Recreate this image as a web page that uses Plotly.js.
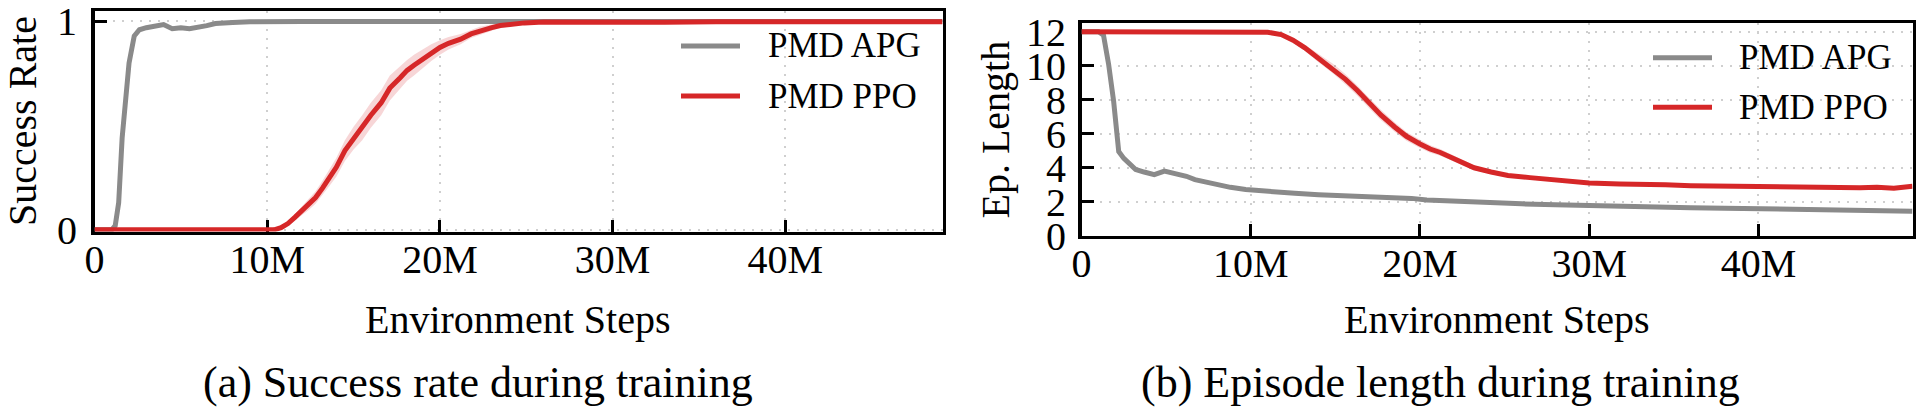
<!DOCTYPE html>
<html>
<head>
<meta charset="utf-8">
<script src="https://cdn.plot.ly/plotly-3.0.1.min.js"></script>
<style>
  html, body { margin: 0; padding: 0; background: #ffffff; }
  #chart { width: 1920px; height: 410px; }
</style>
</head>
<body>
<div id="chart"></div>
<script>
// Environment steps are given in millions.
const apgSuccX = [0, 0.5, 1.0, 1.2, 1.4, 1.6, 1.8, 2.0, 2.3, 2.6, 3.0, 3.5, 4.0, 4.5, 5.0, 5.5, 6.0, 6.5, 7.0, 7.5, 8.0, 9.0, 10, 12, 15, 20, 25, 30, 35, 40, 45, 49.1];
const apgSucc  = [0, 0, 0, 0.02, 0.13, 0.44, 0.64, 0.80, 0.93, 0.96, 0.97, 0.975, 0.985, 0.965, 0.97, 0.965, 0.97, 0.98, 0.99, 0.99, 0.995, 0.998, 1, 1, 1, 1, 1, 1, 1, 1, 1, 1];

const ppoSuccX = [0, 5, 10, 10.4, 10.8, 11.2, 11.6, 12.0, 12.4, 12.8, 13.2, 13.6, 14.0, 14.5, 15.0, 15.5, 16.0, 16.6, 17.1, 17.7, 18.1, 18.5, 19.0, 19.5, 20.0, 20.5, 21.2, 21.8, 22.3, 23.0, 23.5, 24.0, 24.9, 26, 28, 30, 33, 36, 40, 44, 47, 49.1];
const ppoSucc  = [0, 0, 0, 0, 0.01, 0.03, 0.06, 0.09, 0.12, 0.155, 0.2, 0.25, 0.3, 0.38, 0.44, 0.49, 0.55, 0.61, 0.68, 0.73, 0.765, 0.79, 0.82, 0.85, 0.875, 0.895, 0.915, 0.94, 0.955, 0.97, 0.98, 0.985, 0.993, 0.997, 0.995, 0.998, 0.996, 0.998, 0.997, 0.999, 0.997, 0.998];
const ppoSuccSpread = [0, 0, 0, 0, 0.005, 0.01, 0.015, 0.02, 0.025, 0.03, 0.035, 0.04, 0.045, 0.05, 0.055, 0.06, 0.06, 0.06, 0.06, 0.055, 0.05, 0.05, 0.045, 0.04, 0.035, 0.03, 0.025, 0.02, 0.02, 0.015, 0.01, 0.01, 0.005, 0.003, 0.002, 0.002, 0.002, 0.002, 0.002, 0.002, 0.002, 0.002];

const apgLenX = [0, 0.5, 1.0, 1.3, 1.6, 1.9, 2.2, 2.5, 2.8, 3.2, 3.7, 4.3, 4.9, 5.3, 5.7, 6.2, 6.7, 7.1, 8.0, 8.8, 9.7, 10.6, 11.4, 12.6, 14, 15.5, 16.5, 18, 19.5, 20.4, 22, 24, 26, 28, 30, 32, 34, 36, 38, 40, 42, 44, 46, 48, 49.1];
const apgLen  = [12, 12, 12, 11.8, 10.1, 7.9, 4.95, 4.55, 4.3, 3.9, 3.75, 3.6, 3.8, 3.72, 3.67, 3.5, 3.3, 3.2, 3.0, 2.85, 2.72, 2.63, 2.55, 2.5, 2.42, 2.38, 2.35, 2.25, 2.2, 2.1, 2.02, 1.95, 1.88, 1.82, 1.76, 1.72, 1.7, 1.65, 1.62, 1.58, 1.55, 1.52, 1.5, 1.47, 1.45];

const ppoLenX = [0, 5, 10, 10.5, 11, 11.8, 12.5, 13.2, 14, 14.9, 15.6, 16.3, 17, 17.7, 18.5, 19.2, 20, 20.6, 21.2, 22.2, 23.2, 24.2, 25.2, 26.5, 27.9, 29, 30, 31.8, 33, 34.5, 36, 37.7, 39, 40, 41.5, 43, 44, 45, 46, 47, 48, 49.1];
const ppoLen  = [12, 12, 12, 12, 11.97, 11.83, 11.5, 11.05, 10.45, 9.8, 9.2, 8.54, 7.8, 7.09, 6.4, 5.85, 5.4, 5.1, 4.9, 4.45, 4.0, 3.75, 3.55, 3.42, 3.3, 3.18, 3.1, 3.05, 3.0, 3.0, 2.95, 2.92, 2.93, 2.9, 2.9, 2.88, 2.85, 2.8, 2.82, 2.85, 2.8, 2.92];
const ppoLenSpread = [0, 0, 0, 0, 0.03, 0.07, 0.12, 0.18, 0.24, 0.28, 0.3, 0.3, 0.3, 0.3, 0.28, 0.26, 0.24, 0.22, 0.2, 0.17, 0.14, 0.11, 0.09, 0.07, 0.05, 0.04, 0.04, 0.03, 0.03, 0.03, 0.03, 0.03, 0.03, 0.03, 0.03, 0.03, 0.03, 0.03, 0.03, 0.03, 0.03, 0.03];

const xTickVals = [0, 10, 20, 30, 40];
const xTickText = ['0', '10M', '20M', '30M', '40M'];
const succTickVals = [0, 1];
const lenTickVals = [0, 2, 4, 6, 8, 10, 12];

const seriesNames = ['PMD APG', 'PMD PPO'];
const captions = ['(a) Success rate during training', '(b) Episode length during training'];
const xTitle = 'Environment Steps';
const yTitles = ['Success Rate', 'Ep. Length'];

const GRAY = '#8a8a8a';
const RED = '#d62728';
const BAND = 'rgba(214,39,40,0.19)';
const FONT = '"Liberation Serif", "Times New Roman", serif';

const W = 1920, H = 410;
const px = v => v / W;
const py = v => 1 - v / H;

function add(a, b, s) { return a.map((v, i) => v + s * b[i]); }

function band(x, y, s, xa, ya) {
  return [
    { x: x, y: add(y, s, 1), xaxis: xa, yaxis: ya, mode: 'lines', line: { width: 0, color: BAND }, hoverinfo: 'skip', showlegend: false },
    { x: x, y: add(y, s, -1), xaxis: xa, yaxis: ya, mode: 'lines', line: { width: 0, color: BAND }, fill: 'tonexty', fillcolor: BAND, hoverinfo: 'skip', showlegend: false }
  ];
}

function line(x, y, color, xa, ya, name) {
  return { x: x, y: y, xaxis: xa, yaxis: ya, mode: 'lines', name: name, line: { color: color, width: 5 }, showlegend: false };
}

const traces = [
  ...band(ppoSuccX, ppoSucc, ppoSuccSpread, 'x', 'y'),
  line(apgSuccX, apgSucc, GRAY, 'x', 'y', seriesNames[0]),
  line(ppoSuccX, ppoSucc, RED, 'x', 'y', seriesNames[1]),
  ...band(ppoLenX, ppoLen, ppoLenSpread, 'x2', 'y2'),
  line(apgLenX, apgLen, GRAY, 'x2', 'y2', seriesNames[0]),
  line(ppoLenX, ppoLen, RED, 'x2', 'y2', seriesNames[1])
];

const axisCommon = {
  showline: true, linecolor: '#000', linewidth: 3.5, mirror: true,
  ticks: 'inside', ticklen: 12, tickwidth: 3, tickcolor: '#000',
  showgrid: true, gridcolor: '#cfcfcf', gridwidth: 2, griddash: '2px,7px',
  zeroline: false, layer: 'below traces', ticklabeloverflow: 'allow',
  tickfont: { family: FONT, size: 40, color: '#000' }
};

const xCommon = Object.assign({}, axisCommon, {
  range: [0, 49.1], tickmode: 'array', tickvals: xTickVals, ticktext: xTickText,
  ticklabelstandoff: -10
});

// Legend rows: swatch from x0 to x1, label from tx, one row per series.
const legends = [
  { x0: 681, x1: 740, tx: 766, rows: [46, 96] },
  { x0: 1653, x1: 1712, tx: 1737, rows: [57.7, 107.3] }
];
const seriesColors = [GRAY, RED];

const shapes = [];
const annotations = [];
legends.forEach(lg => {
  lg.rows.forEach((ry, i) => {
    shapes.push({ type: 'line', xref: 'paper', yref: 'paper', x0: px(lg.x0), x1: px(lg.x1), y0: py(ry), y1: py(ry), line: { color: seriesColors[i], width: 5 } });
    annotations.push({ text: seriesNames[i], xref: 'paper', yref: 'paper', x: px(lg.tx), y: py(ry), xanchor: 'left', yanchor: 'middle', showarrow: false, font: { family: FONT, size: 35, color: '#000' } });
  });
});

annotations.push(
  { text: yTitles[0], xref: 'paper', yref: 'paper', x: px(22), y: py(121), textangle: -90, xanchor: 'center', yanchor: 'middle', showarrow: false, font: { family: FONT, size: 40, color: '#000' } },
  { text: yTitles[1], xref: 'paper', yref: 'paper', x: px(995), y: py(129.5), textangle: -90, xanchor: 'center', yanchor: 'middle', showarrow: false, font: { family: FONT, size: 40, color: '#000' } },
  { text: xTitle, xref: 'paper', yref: 'paper', x: px(518), y: py(319), xanchor: 'center', yanchor: 'middle', showarrow: false, font: { family: FONT, size: 40, color: '#000' } },
  { text: xTitle, xref: 'paper', yref: 'paper', x: px(1497), y: py(319), xanchor: 'center', yanchor: 'middle', showarrow: false, font: { family: FONT, size: 40, color: '#000' } },
  { text: captions[0], xref: 'paper', yref: 'paper', x: px(478), y: py(382), xanchor: 'center', yanchor: 'middle', showarrow: false, font: { family: FONT, size: 44, color: '#000' } },
  { text: captions[1], xref: 'paper', yref: 'paper', x: px(1440), y: py(382), xanchor: 'center', yanchor: 'middle', showarrow: false, font: { family: FONT, size: 44, color: '#000' } }
);

const layout = {
  width: W, height: H,
  margin: { l: 0, r: 0, t: 0, b: 0 },
  paper_bgcolor: '#fff', plot_bgcolor: '#fff',
  showlegend: false,
  font: { family: FONT, color: '#000' },
  xaxis: Object.assign({}, xCommon, { domain: [px(94.5), px(942.5)], anchor: 'y' }),
  yaxis: Object.assign({}, axisCommon, {
    domain: [py(231.5), py(11)], anchor: 'x', range: [-0.008, 1.05],
    tickmode: 'array', tickvals: succTickVals, ticktext: ['0', '1'], ticklabelstandoff: 6
  }),
  xaxis2: Object.assign({}, xCommon, { domain: [px(1081.5), px(1912.5)], anchor: 'y2' }),
  yaxis2: Object.assign({}, axisCommon, {
    domain: [py(235.8), py(23.2)], anchor: 'x2', range: [0, 12.5],
    tickmode: 'array', tickvals: lenTickVals, ticktext: lenTickVals.map(String), ticklabelstandoff: 4
  }),
  shapes: shapes,
  annotations: annotations
};

Plotly.newPlot('chart', traces, layout, { staticPlot: true, displayModeBar: false });
</script>
</body>
</html>
